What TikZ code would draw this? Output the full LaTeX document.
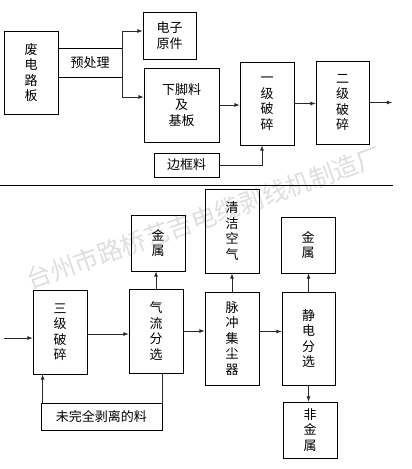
\documentclass[tikz,border=0pt]{standalone}
\usepackage{fontspec}
\usepackage{tikz}
\newfontfamily\cjk{Noto Sans CJK SC}
\definecolor{flowline}{RGB}{40,40,40}
\definecolor{wmgray}{RGB}{222,222,222}

\begin{document}
\begin{tikzpicture}[x=1pt,y=-1pt,>=latex,
    blk/.style={draw,line width=0.8pt,inner sep=0pt,align=center,
      font=\cjk\fontsize{13}{15.5}\selectfont},
    lbl/.style={inner sep=0pt,align=center,font=\cjk\fontsize{13}{15.5}\selectfont},
    flow/.style={->,flowline,line width=0.8pt}]
        \useasboundingbox (0,0) rectangle (412,469);
        % watermark
        \node[wmgray,rotate=19.6,font=\cjk\fontsize{25}{25}\selectfont] (wm) at (204,218) {台州市路桥艺吉电缆剥线机制造厂};
        % upper part
        \node[blk,minimum width=54,minimum height=83] (fdlb) at (31,72.5) {废\\电\\路\\板};
        \node[lbl,minimum width=64,minimum height=28] (pre) at (90,63) {预处理};
        \draw[line width=0.8pt] (pre.north west) -- (pre.north east);
        \draw[line width=0.8pt] (pre.south west) -- (pre.south east);
        \node[blk,minimum width=53,minimum height=47] (dzyj) at (169.5,35.5) {电子\\原件};
        \node[blk,minimum width=75,minimum height=74] (xjl) at (181.5,105) {下脚料\\及\\基板};
        \node[blk,minimum width=65,minimum height=24] (bkl) at (186.5,165) {边框料};
        \node[blk,minimum width=54,minimum height=83] (yjps) at (267,103.5) {一\\级\\破\\碎};
        \node[blk,minimum width=53,minimum height=83] (ejps) at (342.5,102.5) {二\\级\\破\\碎};
        \coordinate (out1) at (392,102.5);
        \draw[flow] (pre.east) |- ([yshift=4.5pt]dzyj.west);
        \draw[flow] (pre.east) |- ([yshift=8pt]xjl.west);
        \draw[flow] (xjl.east) -- (yjps.west |- xjl.east);
        \draw[flow] (bkl.east) -| ([xshift=-5pt]yjps.south);
        \draw[flow] (yjps.east) -- (ejps.west |- yjps.east);
        \draw[flow] (ejps.east) -- (out1);
        \draw[line width=0.8pt] (0,185) -- (393,185);
        % lower part
        \coordinate (in1) at (4,338);
        \node[blk,minimum width=54,minimum height=84] (sjps) at (60,332) {三\\级\\破\\碎};
        \node[blk,minimum width=54,minimum height=84] (qlfx) at (156,331) {气\\流\\分\\选};
        \node[blk,minimum width=54,minimum height=56] (js1) at (158,243) {金\\属};
        \node[blk,minimum width=54,minimum height=84] (qjkq) at (232,231) {清\\洁\\空\\气};
        \node[blk,minimum width=54,minimum height=93] (mcjc) at (232,338.5) {脉\\冲\\集\\尘\\器};
        \node[blk,minimum width=54,minimum height=56] (js2) at (308,245) {金\\属};
        \node[blk,minimum width=53,minimum height=93] (jdfx) at (308.5,338.5) {静\\电\\分\\选};
        \node[blk,minimum width=54,minimum height=56] (fjs) at (310,430) {非\\金\\属};
        \node[blk,minimum width=121,minimum height=27] (wqbl) at (101.5,416.5) {未完全剥离的料};
        \draw[flow] (in1) -- (sjps.west |- in1);
        \draw[flow] ([yshift=-2pt]sjps.east) -- ([yshift=-2pt]qlfx.west |- sjps.east);
        \draw[flow] (qlfx.east) -- (mcjc.west |- qlfx.east);
        \draw[flow] ([yshift=7pt]mcjc.east) -- ([yshift=7pt]jdfx.west);
        \draw[flow] (qlfx.north) -- (qlfx.north |- js1.south);
        \draw[flow] (mcjc.north) -- (qjkq.south);
        \draw[flow] (jdfx.north) -- (jdfx.north |- js2.south);
        \draw[flow] (jdfx.south) -- (jdfx.south |- fjs.north);
        \draw[flowline,line width=0.8pt] (wqbl.north east) -- (wqbl.north east |- qlfx.south);
        \draw[flow] ([xshift=2pt]wqbl.north west) -- ([xshift=2pt]wqbl.north west |- sjps.south);
      \end{tikzpicture}
\end{document}
